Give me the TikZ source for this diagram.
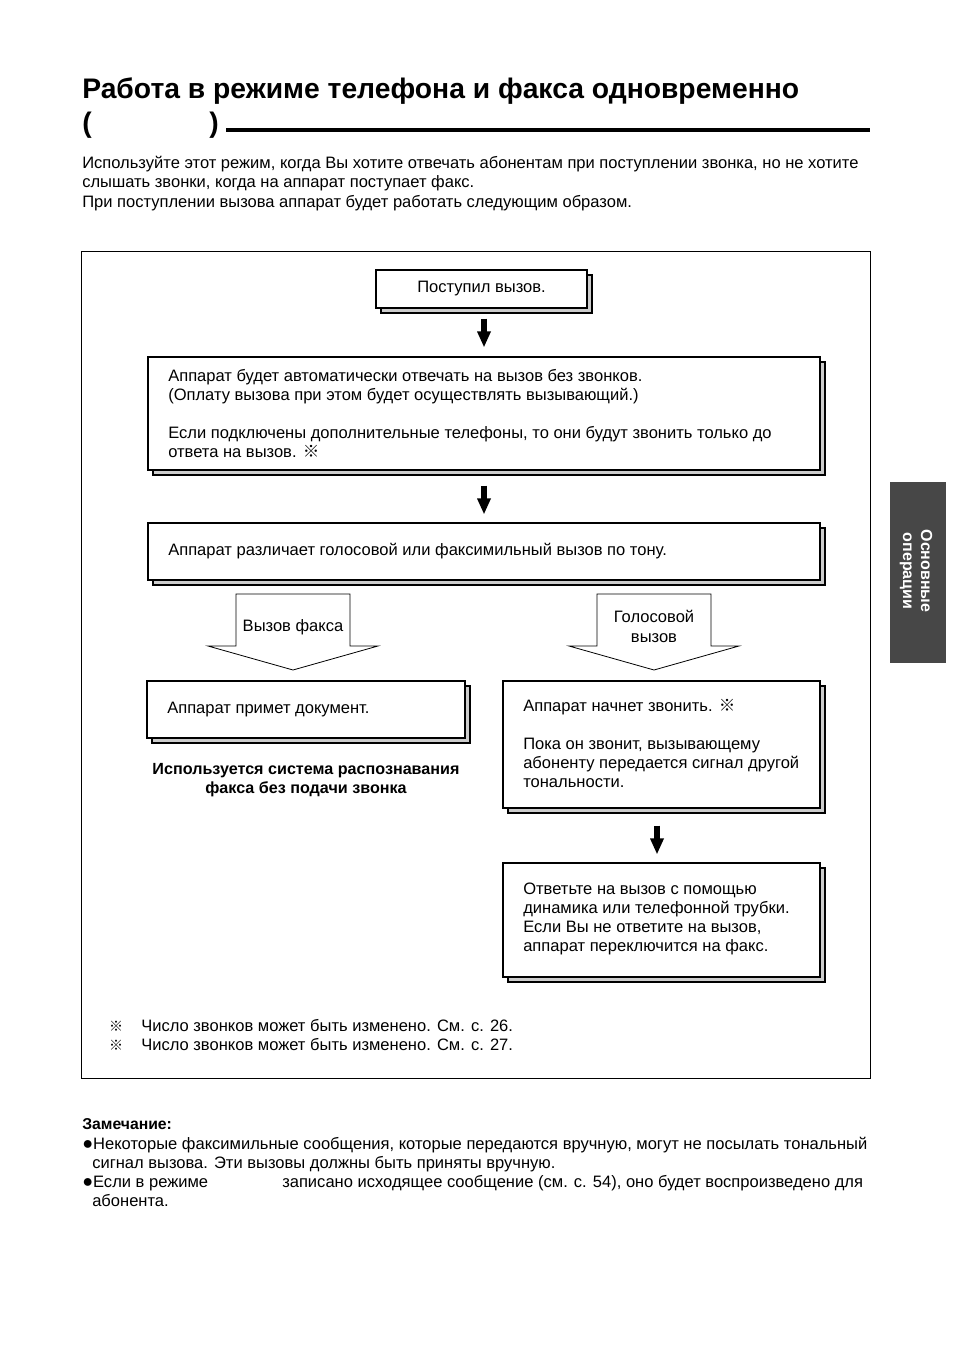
\documentclass[tikz,border=0pt]{standalone}
\usepackage{fontspec}
\setmainfont{Liberation Sans}
\newfontfamily\cjkmark{Noto Sans CJK JP}
\usetikzlibrary{arrows.meta,shadows,calc}
\newcommand{\refmk}{{\cjkmark ※}}
\newcommand{\bul}{\raisebox{0.2pt}{\fontsize{13.5pt}{10pt}\selectfont ●}}
\begin{document}
\begin{tikzpicture}[x=0.75pt,y=-0.75pt,
  txt/.style={font=\fontsize{12.4pt}{14.4pt}\selectfont, inner sep=0pt, align=left},
  boldtxt/.style={font=\fontsize{12.1pt}{14.4pt}\selectfont\bfseries, inner sep=0pt, align=center},
  box/.style={draw=black, line width=0.8pt, fill=white, inner sep=0pt,
    copy shadow={shadow xshift=3.75pt, shadow yshift=-3.75pt, fill=black!20, draw=black, line width=0.8pt}},
  bigarrow/.style={line width=3.8pt, -{Triangle[length=12pt,width=9.5pt]}},
  hollow/.style={draw=black, line width=0.6pt, fill=white},
  tab/.style={fill=black!72, draw=none, text=white, font=\fontsize{12pt}{13.5pt}\selectfont\bfseries, align=center, inner sep=0pt}
]
\useasboundingbox (0,0) rectangle (954,1351);

% title
\node[anchor=base west, inner sep=0pt, font=\fontsize{21.2pt}{24pt}\selectfont\bfseries] (title) at (82,99) {Работа в режиме телефона и факса одновременно};
\node[anchor=base west, inner sep=0pt, font=\fontsize{21.2pt}{24pt}\selectfont\bfseries] (lp) at (82,133) {(};
\node[anchor=base west, inner sep=0pt, font=\fontsize{21.2pt}{24pt}\selectfont\bfseries] (rp) at (209,133) {)};
\coordinate (ruleA) at (226,130);
\coordinate (ruleB) at (870,130);
\draw[line width=2.3pt] (ruleA) -- (ruleB);

% intro
\node[txt, anchor=west] (intro) at (82,183.5) {Используйте этот режим, когда Вы хотите отвечать абонентам при поступлении звонка, но не хотите\\слышать звонки, когда на аппарат поступает факс.\\При поступлении вызова аппарат будет работать следующим образом.};

% frame
\node[draw=black, line width=0.7pt, inner sep=0pt, minimum width=591.75pt, minimum height=620.25pt] (frame) at (475.5,664.5) {};

% boxes
\node[box, minimum width=158.25pt, minimum height=28.5pt] (b1) at (481.5,289) {};
\node[txt, align=center] (t1) at (481.5,289) {Поступил вызов.};

\node[box, minimum width=504pt, minimum height=84.75pt] (b2) at (484,413.5) {};
\node[txt, anchor=west] (t2) at (168,413.5) {Аппарат будет автоматически отвечать на вызов без звонков.\\(Оплату вызова при этом будет осуществлять вызывающий.)\\[14.4pt]Если подключены дополнительные телефоны, то они будут звонить только до\\ответа на вызов. \refmk};

\node[box, minimum width=504pt, minimum height=42.75pt] (b3) at (484,551.5) {};
\node[txt, anchor=west] (t3) at (168,551.5) {Аппарат различает голосовой или факсимильный вызов по тону.};

\node[box, minimum width=238.5pt, minimum height=42.75pt] (b4) at (306,709.5) {};
\node[txt, anchor=west] (t4) at (167,709.5) {Аппарат примет документ.};

\node[box, minimum width=237.75pt, minimum height=95.25pt] (b5) at (661.5,744.5) {};
\node[txt, anchor=west] (t5) at (523,743.5) {Аппарат начнет звонить. \refmk\\[14.4pt]Пока он звонит, вызывающему\\абоненту передается сигнал другой\\тональности.};

\node[box, minimum width=237.75pt, minimum height=85.5pt] (b6) at (661.5,920) {};
\node[txt, anchor=west] (t6) at (523,919) {Ответьте на вызов с помощью\\динамика или телефонной трубки.\\Если Вы не ответите на вызов,\\аппарат переключится на факс.};

\node[boldtxt] (cap) at (306,780.5) {Используется система распознавания\\факса без подачи звонка};

% black arrows
\draw[bigarrow, shorten <=7.5pt, shorten >=6.75pt] (b2.north |- b1.south) -- (b2.north);
\draw[bigarrow, shorten <=11.25pt, shorten >=6pt] (b2.south) -- (b3.north);
\draw[bigarrow] ($(b5.south)+(-4.5,17)$) -- ($(b6.north)+(-4.5,-8)$);

% hollow arrows
\draw[hollow] (236,594) -- (350,594) -- (350,646) -- (378,646) -- (293,670) -- (208,646) -- (236,646) -- cycle;
\node[txt] (lfax) at (293,627) {Вызов факса};
\draw[hollow] (597,594) -- (711,594) -- (711,646) -- (739,646) -- (654,670) -- (569,646) -- (597,646) -- cycle;
\node[txt, align=center] (lvoice) at (654,626.5) {Голосовой\\вызов};

% footnotes
\node[txt, font=\fontsize{10.5pt}{10pt}\selectfont] (m1) at (116,1026) {\refmk};
\node[txt, anchor=west] (f1) at (141,1026) {Число звонков может быть изменено. См. с. 26.};
\node[txt, font=\fontsize{10.5pt}{10pt}\selectfont] (m2) at (116,1045) {\refmk};
\node[txt, anchor=west] (f2) at (141,1045) {Число звонков может быть изменено. См. с. 27.};

% side tab
\node[tab, minimum width=42pt, minimum height=135.75pt] (tabbox) at (918,572.5) {};
\node[tab, rotate=-90] (tabtxt) at (916,571) {Основные\\операции};

% notes
\node[txt, anchor=base west, font=\fontsize{11.8pt}{14pt}\selectfont\bfseries] (nh) at (82,1129.5) {Замечание:};
\node[txt, anchor=base west] (n1) at (82,1149.5) {\bul Некоторые факсимильные сообщения, которые передаются вручную, могут не посылать тональный};
\node[txt, anchor=base west] (n1b) at (92,1168.5) {сигнал вызова. Эти вызовы должны быть приняты вручную.};
\node[txt, anchor=base west] (n2) at (82,1187.5) {\bul Если в режиме};
\node[txt, anchor=base west] (n2m) at (282,1187.5) {записано исходящее сообщение (см. с. 54), оно будет воспроизведено для};
\node[txt, anchor=base west] (n2b) at (92,1206.5) {абонента.};
\end{tikzpicture}
\end{document}
